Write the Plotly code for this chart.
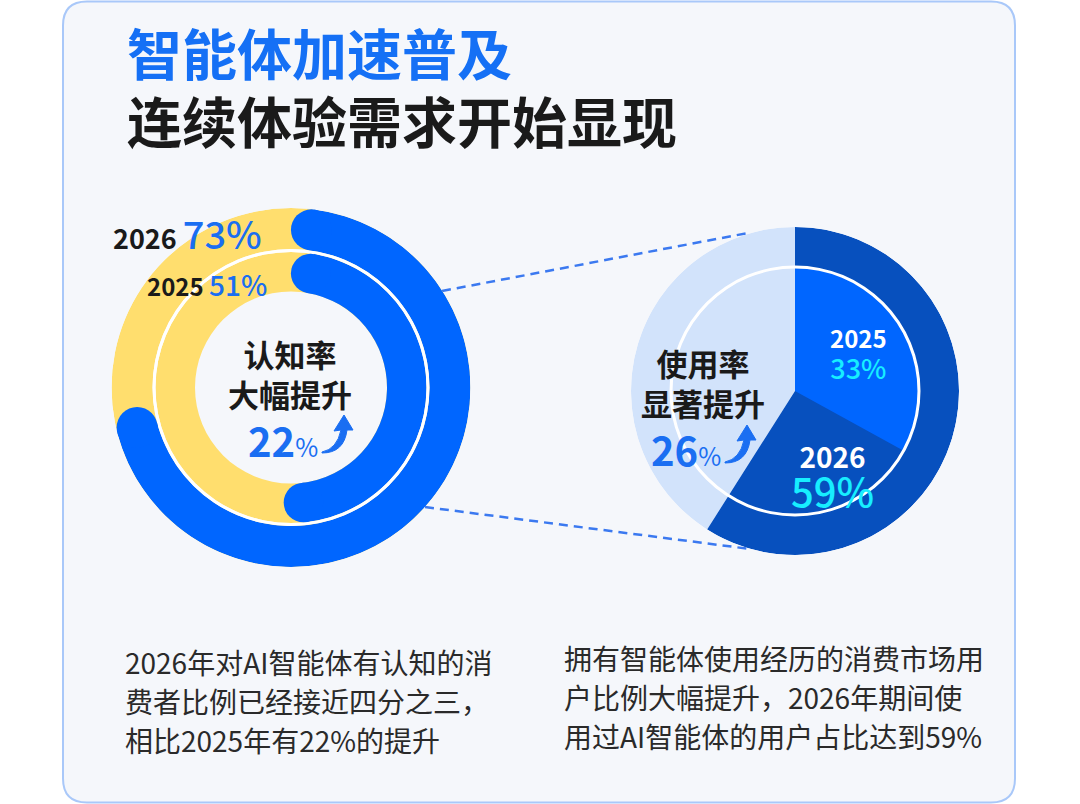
import numpy as np
import plotly.graph_objects as go

# ---------------- data ----------------
awareness_years = ["2026", "2025"]
awareness_pct = [73, 51]          # outer ring, inner ring
awareness_gain = 22
usage_years = ["2025", "2026"]
usage_pct = [33, 59]
usage_gain = 26

title_line1 = "智能体加速普及"
title_line2 = "连续体验需求开始显现"
left_center = ["认知率", "大幅提升"]
right_center = ["使用率", "显著提升"]
left_note = ["2026年对AI智能体有认知的消", "费者比例已经接近四分之三，", "相比2025年有22%的提升"]
right_note = ["拥有智能体使用经历的消费市场用", "户比例大幅提升，2026年期间使", "用过AI智能体的用户占比达到59%"]

# ---------------- styling ----------------
W, H = 1080, 804
FONT = "Noto Sans CJK SC"
BLUE = "#0066FF"
TEXT_BLUE = "#1A6EF2"
YELLOW = "#FFDE6E"
DARK = "#0750BE"
LIGHT = "#D2E3FB"
CYAN = "#17EEFF"
BLACK = "#1A1A1A"
CARD_BG = "#F5F7FB"
CARD_BORDER = "#A9C8F9"

L_CX, L_CY, L_R = 291, 387.5, 179.5
R_CX, R_CY, R_R = 795, 391, 164


def domain(cx, cy, R):
    return dict(x=[(cx - R) / W, (cx + R) / W], y=[1 - (cy + R) / H, 1 - (cy - R) / H])


fig = go.Figure()
fig.add_trace(go.Scatter(x=[], y=[], showlegend=False))

# ---------- left donut (awareness) ----------
rings = [dict(base=138.5, thick=41.0), dict(base=96.0, thick=39.5)]
caps = []
for ring, val in zip(rings, awareness_pct):
    b, t = ring["base"], ring["thick"]
    for th in (90, 270):  # track in two halves
        fig.add_trace(go.Barpolar(r=[t], base=[b], theta=[th], width=[180],
                                  marker=dict(color=YELLOW, line=dict(width=0)),
                                  subplot="polar", hoverinfo="skip"))
    rmid = b + t / 2
    d = np.degrees((t / 2) / rmid)
    start, end = d, val * 3.6 - d
    fig.add_trace(go.Barpolar(r=[t], base=[b], theta=[(start + end) / 2], width=[end - start],
                              marker=dict(color=BLUE, line=dict(width=0)),
                              subplot="polar", hoverinfo="skip"))
    caps.append((rmid, start, end, t))
for th in (90, 270):
    fig.add_trace(go.Barpolar(r=[3], base=[135.5], theta=[th], width=[180],
                              marker=dict(color="white", line=dict(width=0)),
                              subplot="polar", hoverinfo="skip"))
for rmid, start, end, t in caps:
    fig.add_trace(go.Scatterpolar(r=[rmid, rmid], theta=[start, end], mode="markers",
                                  marker=dict(size=t, color=BLUE, line=dict(width=0)),
                                  subplot="polar", hoverinfo="skip"))

# ---------- right pie (usage) ----------
u25, u26 = usage_pct
fig.add_trace(go.Barpolar(r=[R_R], base=[0], theta=[(u26 + 100) / 2 * 3.6], width=[(100 - u26) * 3.6],
                          marker=dict(color=LIGHT, line=dict(width=0)), subplot="polar2", hoverinfo="skip"))
fig.add_trace(go.Barpolar(r=[R_R], base=[0], theta=[u26 / 2 * 3.6], width=[u26 * 3.6],
                          marker=dict(color=DARK, line=dict(width=0)), subplot="polar2", hoverinfo="skip"))
fig.add_trace(go.Barpolar(r=[124], base=[0], theta=[u25 / 2 * 3.6], width=[u25 * 3.6],
                          marker=dict(color=BLUE, line=dict(width=0)), subplot="polar2", hoverinfo="skip"))
for th in (90, 270):
    fig.add_trace(go.Barpolar(r=[3], base=[122.5], theta=[th], width=[180],
                              marker=dict(color="white", line=dict(width=0)),
                              subplot="polar2", hoverinfo="skip"))

polar_common = dict(
    bgcolor="rgba(0,0,0,0)", hole=0, barmode="overlay", bargap=0,
    angularaxis=dict(rotation=90, direction="clockwise", visible=False,
                     showgrid=False, showline=False, showticklabels=False, ticks=""),
)

# ---------- shapes ----------
x0, y0, x1, y1, rc = 63, 1.5, 1015, 802.5, 24
card = (f"M {x0+rc},{y0} L {x1-rc},{y0} Q {x1},{y0} {x1},{y0+rc} L {x1},{y1-rc} "
        f"Q {x1},{y1} {x1-rc},{y1} L {x0+rc},{y1} Q {x0},{y1} {x0},{y1-rc} "
        f"L {x0},{y0+rc} Q {x0},{y0} {x0+rc},{y0} Z")
shapes = [
    dict(type="path", path=card, xref="x", yref="y", fillcolor=CARD_BG,
         line=dict(color=CARD_BORDER, width=2), layer="below"),
    dict(type="line", x0=442, y0=291, x1=748, y1=233, xref="x", yref="y",
         line=dict(color="#3B79F0", width=2.5, dash="9px,6px"), layer="below"),
    dict(type="line", x0=425, y0=507, x1=750, y1=549, xref="x", yref="y",
         line=dict(color="#3B79F0", width=2.5, dash="9px,6px"), layer="below"),
]


def up_arrow(ax, ay):
    """curved up-arrow icon, anchored at its bottom-left tail point"""
    pts = [("M", 0, 37), ("Q", 15, 34, 19, 15), ("L", 12, 16), ("L", 22, 0), ("L", 31, 15),
           ("L", 25, 15), ("Q", 22, 38, 0, 38)]
    s = ""
    for p in pts:
        if p[0] == "Q":
            s += f"Q {ax+p[1]},{ay-38+p[2]} {ax+p[3]},{ay-38+p[4]} "
        else:
            s += f"{p[0]} {ax+p[1]},{ay-38+p[2]} "
    return dict(type="path", path=s + "Z", xref="x", yref="y", fillcolor=TEXT_BLUE,
                line=dict(color=TEXT_BLUE, width=1))


shapes.append(up_arrow(322, 453))
shapes.append(up_arrow(725, 463))

# ---------- annotations ----------
ann = []


def A(text, x, y, size, color=BLACK, xanchor="center", yanchor="middle", align="center"):
    ann.append(dict(text=text, x=x, y=y, xref="x", yref="y", showarrow=False,
                    xanchor=xanchor, yanchor=yanchor, align=align,
                    font=dict(family=FONT, size=size, color=color)))


A(f"<span style='font-size:55px'><b>{title_line1}</b></span><br>"
  f"<span style='font-size:55px;color:{BLACK}'><b>{title_line2}</b></span>",
  125, 85, 52.3, "#1570F5", xanchor="left", align="left")

PW = "font-weight:500"
A(f"<b>{awareness_years[0]}</b> <span style='font-size:38px;color:{TEXT_BLUE};{PW}'>{awareness_pct[0]}%</span>",
  111, 232, 27, xanchor="left")
A(f"<b>{awareness_years[1]}</b> <span style='font-size:28px;color:{TEXT_BLUE};{PW}'>{awareness_pct[1]}%</span>",
  145, 284, 24, xanchor="left")

A(f"<b>{left_center[0]}</b><br><b>{left_center[1]}</b>", 290, 373.5, 31)
A(f"<b>{awareness_gain}</b><span style='font-size:25px'>%</span>", 320, 440, 40, TEXT_BLUE, xanchor="right")

A(f"<b>{right_center[0]}</b><br><b>{right_center[1]}</b>", 702.5, 382, 31)
A(f"<b>{usage_gain}</b><span style='font-size:25px'>%</span>", 723, 449, 40, TEXT_BLUE, xanchor="right")

A(f"<b>{usage_years[0]}</b><br><span style='font-size:27px;color:{CYAN};{PW}'>{usage_pct[0]}%</span>",
  858, 353.5, 24, "white")
A(f"<span style='font-size:28px'><b>{usage_years[1]}</b></span><br>"
  f"<span style='font-size:40px;color:{CYAN};{PW}'>{usage_pct[1]}%</span>",
  832, 477.5, 30, "white")

A("<br>".join(f"<span style='font-size:28px'>{l}</span>" for l in left_note),
  123, 701, 30, "#2A2A2A", xanchor="left", align="left")
A("<br>".join(f"<span style='font-size:28px'>{l}</span>" for l in right_note),
  562, 697, 30, "#2A2A2A", xanchor="left", align="left")

fig.update_layout(
    width=W, height=H, margin=dict(l=0, r=0, t=0, b=0),
    paper_bgcolor="white", plot_bgcolor="rgba(0,0,0,0)", showlegend=False,
    xaxis=dict(range=[0, W], visible=False, domain=[0, 1], fixedrange=True),
    yaxis=dict(range=[H, 0], visible=False, domain=[0, 1], fixedrange=True),
    polar=dict(domain=domain(L_CX, L_CY, L_R), radialaxis=dict(range=[0, L_R], visible=False),
               **polar_common),
    polar2=dict(domain=domain(R_CX, R_CY, R_R), radialaxis=dict(range=[0, R_R], visible=False),
                **polar_common),
    shapes=shapes, annotations=ann,
)

fig.write_html("out.html")
